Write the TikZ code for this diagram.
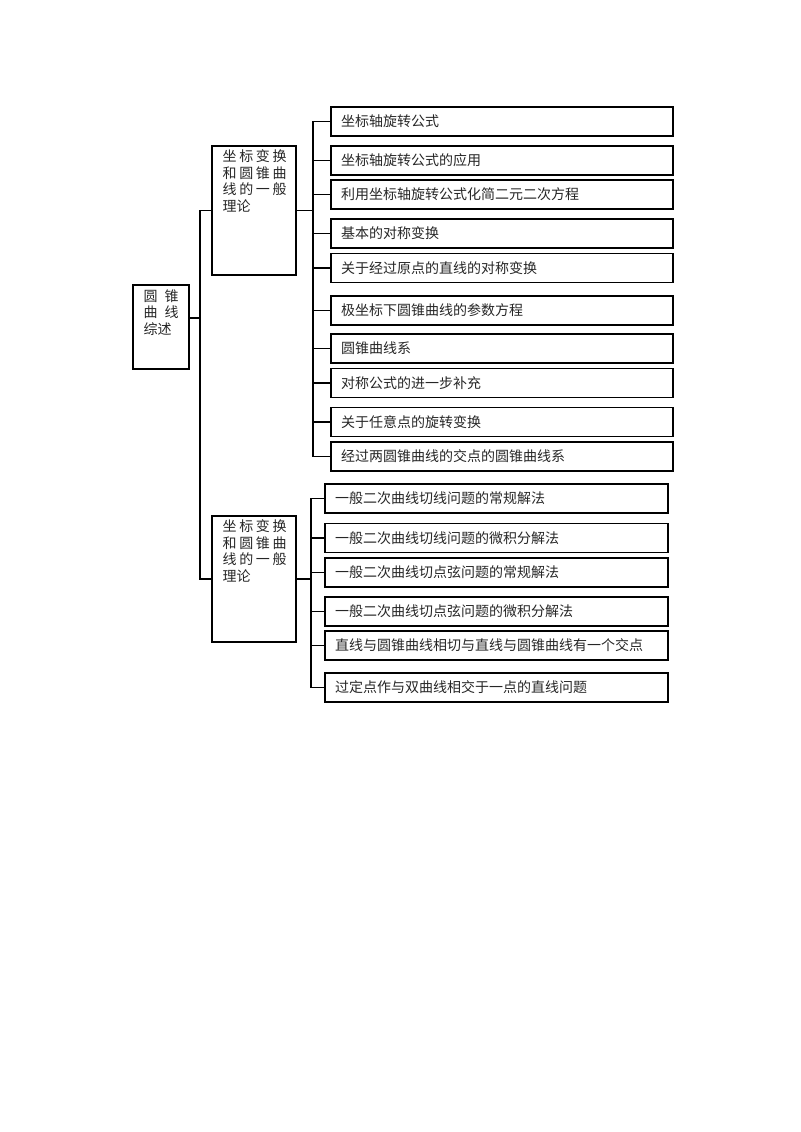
\documentclass[tikz,border=0pt]{standalone}
\usepackage{fontspec}
\newfontfamily\cjk{Noto Sans CJK SC}
\begin{document}
\begin{tikzpicture}[x=0.75pt,y=-0.75pt,
  line width=0.9pt,
  txt/.style={font=\cjk\fontsize{10.5}{12.5}\selectfont, text=black!85},
  leaf/.style={draw, txt, minimum height=21.75pt, text width=241.5pt, inner xsep=7.5pt, inner ysep=0pt, align=left},
  leafb/.style={leaf, text width=242.25pt},
  midbox/.style={draw, minimum width=63pt, inner sep=0pt},
  inner/.style={txt, anchor=north west, inner sep=0pt, align=left}
]
\useasboundingbox (0,0) rectangle (800,1132);

% root
\node[draw, minimum width=42pt, minimum height=63pt, inner sep=0pt] (root) at (161,327) {};
\node[inner] (roott) at (143,289) {\hbox to 26.25pt{圆\hfill 锥}\\\hbox to 26.25pt{曲\hfill 线}\\综述};

% middle boxes
\node[midbox, minimum height=96.75pt] (m1) at (254,210.5) {};
\node[inner] (m1t) at (222,149) {\hbox to 48pt{坐\hfill 标\hfill 变\hfill 换}\\\hbox to 48pt{和\hfill 圆\hfill 锥\hfill 曲}\\\hbox to 48pt{线\hfill 的\hfill 一\hfill 般}\\理论};
\node[midbox, minimum height=94.5pt] (m2) at (254,579) {};
\node[inner] (m2t) at (222,519) {\hbox to 48pt{坐\hfill 标\hfill 变\hfill 换}\\\hbox to 48pt{和\hfill 圆\hfill 锥\hfill 曲}\\\hbox to 48pt{线\hfill 的\hfill 一\hfill 般}\\理论};

% top leaves
\node[leaf] (a1) at (502,121.5) {坐标轴旋转公式};
\node[leaf] (a2) at (502,160.5) {坐标轴旋转公式的应用};
\node[leaf] (a3) at (502,194.5) {利用坐标轴旋转公式化简二元二次方程};
\node[leaf] (a4) at (502,233.5) {基本的对称变换};
\node[leaf] (a5) at (502,268) {关于经过原点的直线的对称变换};
\node[leaf] (a6) at (502,310.5) {极坐标下圆锥曲线的参数方程};
\node[leaf] (a7) at (502,348.5) {圆锥曲线系};
\node[leaf] (a8) at (502,383) {对称公式的进一步补充};
\node[leaf] (a9) at (502,422) {关于任意点的旋转变换};
\node[leaf] (a10) at (502,456.5) {经过两圆锥曲线的交点的圆锥曲线系};

% bottom leaves
\node[leafb] (b1) at (496.5,498.5) {一般二次曲线切线问题的常规解法};
\node[leafb] (b2) at (496.5,538) {一般二次曲线切线问题的微积分解法};
\node[leafb] (b3) at (496.5,572.5) {一般二次曲线切点弦问题的常规解法};
\node[leafb] (b4) at (496.5,611.5) {一般二次曲线切点弦问题的微积分解法};
\node[leafb] (b5) at (496.5,645.5) {直线与圆锥曲线相切与直线与圆锥曲线有一个交点};
\node[leafb] (b6) at (496.5,687.5) {过定点作与双曲线相交于一点的直线问题};

% connectors
\coordinate (j0) at (200,318);
\coordinate (t1) at (313,210.5);
\coordinate (t2) at (311,579);
\draw (root.east |- j0) -- (j0);
\draw (m1.west) -| (j0) |- (m2.west);
\draw (m1.east) -- (t1);
\foreach \i in {1,...,10} \draw (t1) |- (a\i.west);
\draw (m2.east) -- (t2);
\foreach \i in {1,...,6} \draw (t2) |- (b\i.west);
\end{tikzpicture}
\end{document}
